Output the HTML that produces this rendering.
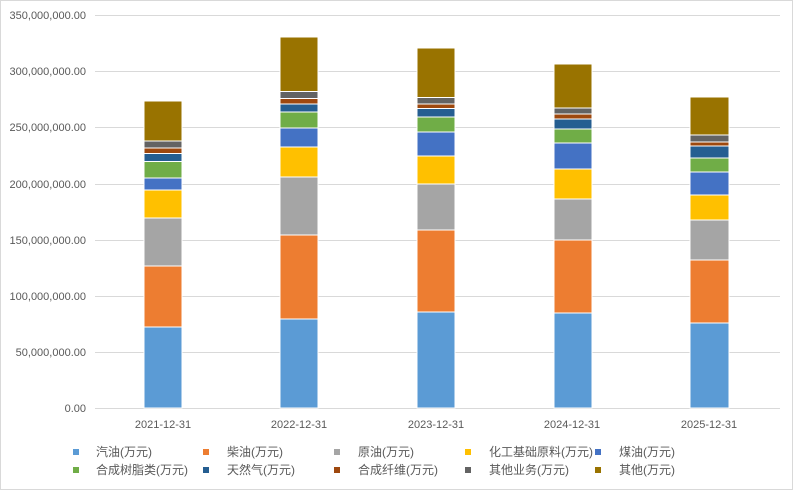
<!DOCTYPE html>
<html><head><meta charset="utf-8"><style>
body{margin:0;background:#fff}
svg text{font-family:"Liberation Sans","Noto Sans CJK SC",sans-serif;fill:#595959}
</style></head><body>
<svg width="793" height="490" xmlns="http://www.w3.org/2000/svg">
<rect x="0.5" y="0.5" width="792" height="489" fill="#fff" stroke="#d9d9d9"/>
<g stroke="#d9d9d9" stroke-width="1">
<line x1="95" x2="780" y1="15.5" y2="15.5"/><line x1="95" x2="780" y1="71.5" y2="71.5"/>
<line x1="95" x2="780" y1="127.5" y2="127.5"/><line x1="95" x2="780" y1="184.5" y2="184.5"/>
<line x1="95" x2="780" y1="240.5" y2="240.5"/><line x1="95" x2="780" y1="296.5" y2="296.5"/>
<line x1="95" x2="780" y1="352.5" y2="352.5"/><line x1="95" x2="780" y1="408.5" y2="408.5"/>
</g>
<g font-size="11" text-anchor="end">
<text x="86" y="19">350,000,000.00</text><text x="86" y="75">300,000,000.00</text>
<text x="86" y="131">250,000,000.00</text><text x="86" y="188">200,000,000.00</text>
<text x="86" y="244">150,000,000.00</text><text x="86" y="300">100,000,000.00</text>
<text x="86" y="356">50,000,000.00</text><text x="86" y="412">0.00</text>
</g>
<g stroke="#fff" stroke-width="1">
<!-- bar1 -->
<rect x="144" y="327" width="38" height="81" fill="#5b9bd5"/>
<rect x="144" y="266" width="38" height="61" fill="#ed7d31"/>
<rect x="144" y="218" width="38" height="48" fill="#a5a5a5"/>
<rect x="144" y="190" width="38" height="28" fill="#ffc000"/>
<rect x="144" y="178" width="38" height="12" fill="#4472c4"/>
<rect x="144" y="161.5" width="38" height="16.5" fill="#70ad47"/>
<rect x="144" y="153.5" width="38" height="8" fill="#255e91"/>
<rect x="144" y="148" width="38" height="5.5" fill="#9e480e"/>
<rect x="144" y="141" width="38" height="7" fill="#636363"/>
<rect x="144" y="101" width="38" height="40" fill="#997300"/>
<!-- bar2 -->
<rect x="280" y="319" width="38" height="89" fill="#5b9bd5"/>
<rect x="280" y="235" width="38" height="84" fill="#ed7d31"/>
<rect x="280" y="177" width="38" height="58" fill="#a5a5a5"/>
<rect x="280" y="147" width="38" height="30" fill="#ffc000"/>
<rect x="280" y="128" width="38" height="19" fill="#4472c4"/>
<rect x="280" y="112" width="38" height="16" fill="#70ad47"/>
<rect x="280" y="104" width="38" height="8" fill="#255e91"/>
<rect x="280" y="98.5" width="38" height="5.5" fill="#9e480e"/>
<rect x="280" y="91.5" width="38" height="7" fill="#636363"/>
<rect x="280" y="37" width="38" height="54.5" fill="#997300"/>
<!-- bar3 -->
<rect x="417" y="312" width="38" height="96" fill="#5b9bd5"/>
<rect x="417" y="230" width="38" height="82" fill="#ed7d31"/>
<rect x="417" y="184" width="38" height="46" fill="#a5a5a5"/>
<rect x="417" y="156" width="38" height="28" fill="#ffc000"/>
<rect x="417" y="132" width="38" height="24" fill="#4472c4"/>
<rect x="417" y="117" width="38" height="15" fill="#70ad47"/>
<rect x="417" y="108.5" width="38" height="8.5" fill="#255e91"/>
<rect x="417" y="104" width="38" height="4.5" fill="#9e480e"/>
<rect x="417" y="97.5" width="38" height="6.5" fill="#636363"/>
<rect x="417" y="48" width="38" height="49.5" fill="#997300"/>
<!-- bar4 -->
<rect x="554" y="313" width="38" height="95" fill="#5b9bd5"/>
<rect x="554" y="240" width="38" height="73" fill="#ed7d31"/>
<rect x="554" y="199" width="38" height="41" fill="#a5a5a5"/>
<rect x="554" y="169" width="38" height="30" fill="#ffc000"/>
<rect x="554" y="143" width="38" height="26" fill="#4472c4"/>
<rect x="554" y="129" width="38" height="14" fill="#70ad47"/>
<rect x="554" y="119" width="38" height="10" fill="#255e91"/>
<rect x="554" y="114" width="38" height="5" fill="#9e480e"/>
<rect x="554" y="108" width="38" height="6" fill="#636363"/>
<rect x="554" y="64" width="38" height="44" fill="#997300"/>
<!-- bar5 -->
<rect x="690" y="323" width="39" height="85" fill="#5b9bd5"/>
<rect x="690" y="260" width="39" height="63" fill="#ed7d31"/>
<rect x="690" y="220" width="39" height="40" fill="#a5a5a5"/>
<rect x="690" y="195" width="39" height="25" fill="#ffc000"/>
<rect x="690" y="172" width="39" height="23" fill="#4472c4"/>
<rect x="690" y="158" width="39" height="14" fill="#70ad47"/>
<rect x="690" y="146" width="39" height="12" fill="#255e91"/>
<rect x="690" y="142" width="39" height="4" fill="#9e480e"/>
<rect x="690" y="135" width="39" height="7" fill="#636363"/>
<rect x="690" y="97" width="39" height="38" fill="#997300"/>
</g>
<g font-size="11" text-anchor="middle">
<text x="163" y="428">2021-12-31</text><text x="299" y="428">2022-12-31</text>
<text x="436" y="428">2023-12-31</text><text x="572" y="428">2024-12-31</text>
<text x="709" y="428">2025-12-31</text>
</g>
<g font-size="12">
<rect x="73" y="449" width="6" height="6" fill="#5b9bd5"/><text x="96" y="456">汽油(万元)</text>
<rect x="203" y="449" width="6" height="6" fill="#ed7d31"/><text x="227" y="456">柴油(万元)</text>
<rect x="334" y="449" width="6" height="6" fill="#a5a5a5"/><text x="358" y="456">原油(万元)</text>
<rect x="465" y="449" width="6" height="6" fill="#ffc000"/><text x="489" y="456">化工基础原料(万元)</text>
<rect x="595" y="449" width="6" height="6" fill="#4472c4"/><text x="619" y="456">煤油(万元)</text>
<rect x="73" y="467" width="6" height="6" fill="#70ad47"/><text x="96" y="474">合成树脂类(万元)</text>
<rect x="203" y="467" width="6" height="6" fill="#255e91"/><text x="227" y="474">天然气(万元)</text>
<rect x="334" y="467" width="6" height="6" fill="#9e480e"/><text x="358" y="474">合成纤维(万元)</text>
<rect x="465" y="467" width="6" height="6" fill="#636363"/><text x="489" y="474">其他业务(万元)</text>
<rect x="595" y="467" width="6" height="6" fill="#997300"/><text x="619" y="474">其他(万元)</text>
</g>
</svg>
</body></html>
